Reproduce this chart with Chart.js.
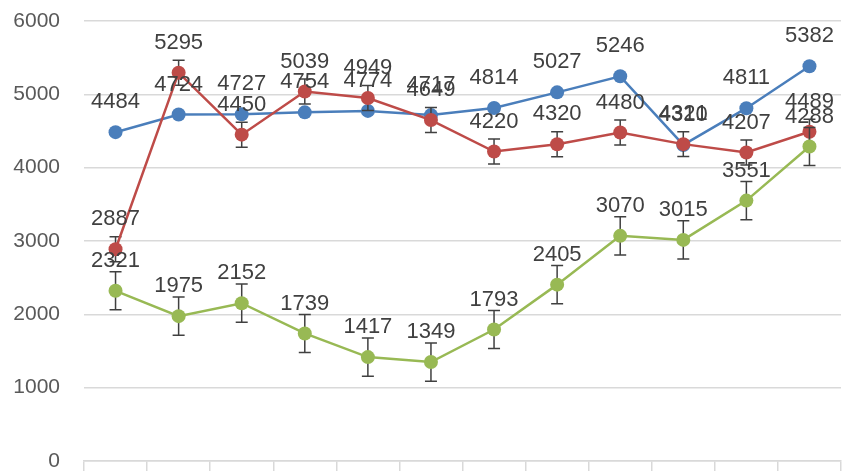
<!DOCTYPE html>
<html>
<head>
<meta charset="utf-8">
<script src="https://cdn.jsdelivr.net/npm/chart.js@4/dist/chart.umd.min.js"></script>
<style>
  html, body { margin: 0; padding: 0; background: #fff; }
  #wrap { width: 848px; height: 471px; }
</style>
</head>
<body>
<div id="wrap"><canvas id="chart" width="848" height="471"></canvas></div>
<script>
const categories = ['', '', '', '', '', '', '', '', '', '', '', ''];
const blueValues  = [4484, 4724, 4727, 4754, 4774, 4717, 4814, 5027, 5246, 4310, 4811, 5382];
const redValues   = [2887, 5295, 4450, 5039, 4949, 4649, 4220, 4320, 4480, 4321, 4207, 4489];
const greenValues = [2321, 1975, 2152, 1739, 1417, 1349, 1793, 2405, 3070, 3015, 3551, 4288];
const redErrors   = [170, 170, 170, 170, 170, 170, 170, 170, 170, 170, 170, 170];
const greenErrors = [260, 260, 260, 260, 260, 260, 260, 260, 260, 260, 260, 260];
const yTicks = [0, 1000, 2000, 3000, 4000, 5000, 6000];

const FONT = 'Liberation Sans';

// error bars drawn just before each dataset so markers sit on top
const errorBars = {
  id: 'errorBars',
  beforeDatasetDraw(chart, args) {
    const ds = chart.data.datasets[args.index];
    if (!ds.errors) return;
    const meta = args.meta;
    const y = chart.scales.y;
    const ctx = chart.ctx;
    ctx.save();
    ctx.strokeStyle = '#404040';
    ctx.lineWidth = 1.5;
    meta.data.forEach((pt, i) => {
      const v = ds.data[i], e = ds.errors[i];
      const top = y.getPixelForValue(v + e);
      const bot = y.getPixelForValue(v - e);
      ctx.beginPath();
      ctx.moveTo(pt.x, top); ctx.lineTo(pt.x, bot);
      ctx.moveTo(pt.x - 6, top); ctx.lineTo(pt.x + 6, top);
      ctx.moveTo(pt.x - 6, bot); ctx.lineTo(pt.x + 6, bot);
      ctx.stroke();
    });
    ctx.restore();
  }
};

const valueLabels = {
  id: 'valueLabels',
  afterDatasetsDraw(chart) {
    const ctx = chart.ctx;
    ctx.save();
    ctx.font = '22px "' + FONT + '"';
    ctx.fillStyle = '#404040';
    ctx.textAlign = 'center';
    ctx.textBaseline = 'middle';
    chart.data.datasets.forEach((ds, di) => {
      chart.getDatasetMeta(di).data.forEach((pt, i) => {
        ctx.fillText(String(ds.data[i]), pt.x, pt.y - 30);
      });
    });
    ctx.restore();
  }
};

new Chart(document.getElementById('chart'), {
  type: 'line',
  data: {
    labels: categories,
    datasets: [
      {
        data: blueValues,
        borderColor: '#4a7ebb',
        backgroundColor: '#4a7ebb',
        borderWidth: 2.5,
        pointRadius: 7,
        pointBorderWidth: 0,
        tension: 0,
        order: 3
      },
      {
        data: redValues,
        errors: redErrors,
        borderColor: '#be4b48',
        backgroundColor: '#be4b48',
        borderWidth: 2.5,
        pointRadius: 7,
        pointBorderWidth: 0,
        tension: 0,
        order: 2
      },
      {
        data: greenValues,
        errors: greenErrors,
        borderColor: '#98b954',
        backgroundColor: '#98b954',
        borderWidth: 2.5,
        pointRadius: 7,
        pointBorderWidth: 0,
        tension: 0,
        order: 1
      }
    ]
  },
  options: {
    responsive: false,
    animation: false,
    layout: { padding: { top: 21, right: 0, bottom: 0, left: 0 } },
    plugins: {
      legend: { display: false },
      title: { display: false },
      tooltip: { enabled: false }
    },
    scales: {
      x: {
        offset: true,
        afterFit(scale) { scale.height = 10; },
        grid: {
          offset: true,
          drawOnChartArea: false,
          drawTicks: true,
          tickLength: 10,
          color: '#d9d9d9',
          lineWidth: 1.5
        },
        border: { color: '#d9d9d9', width: 1.5 },
        ticks: { display: false }
      },
      y: {
        min: 0,
        max: 6000,
        afterBuildTicks(scale) {
          scale.ticks = yTicks.map(v => ({ value: v }));
        },
        afterFit(scale) { scale.width = 84; },
        grid: {
          color: '#d9d9d9',
          lineWidth: 1.5,
          drawTicks: true,
          tickLength: 24,
          tickColor: 'rgba(0,0,0,0)'
        },
        border: { display: false },
        ticks: {
          padding: 0,
          color: '#595959',
          font: { family: FONT, size: 21, lineHeight: 0.9 },
          callback: v => String(v)
        }
      }
    }
  },
  plugins: [errorBars, valueLabels]
});
</script>
</body>
</html>
